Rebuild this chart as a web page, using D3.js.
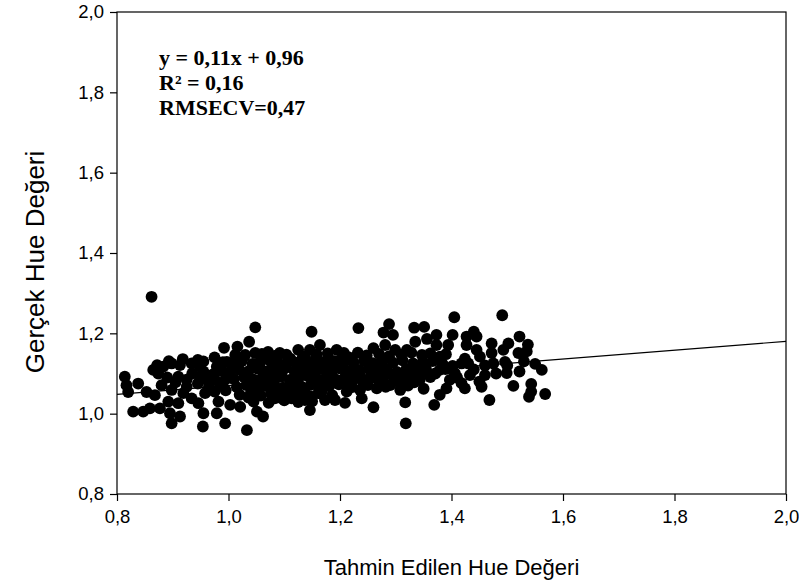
<!DOCTYPE html>
<html>
<head>
<meta charset="utf-8">
<script src="https://cdn.jsdelivr.net/npm/d3@7"></script>
<style>
  html, body { margin: 0; padding: 0; background: #fff; }
  svg { display: block; }
</style>
</head>
<body>
<svg id="chart" width="799" height="581"></svg>
<script>
// Predicted (x) vs measured (y) hue values
const predicted = [
  0.862, 0.992, 0.893, 0.918, 0.945, 0.872, 0.997, 1.048, 1.149, 1.037,
  1.016, 1.048, 1.071, 1.092, 1.125, 1.146, 1.164, 1.194, 1.030, 1.233,
  1.288, 1.278, 1.295, 1.333, 1.351, 1.405, 1.373, 1.402, 1.335, 1.356,
  1.373, 1.394, 1.207, 1.260, 1.281, 1.299, 1.320, 1.347, 1.379, 1.491,
  1.440, 1.427, 1.445, 1.427, 1.522, 1.502, 1.472, 1.537, 1.493, 1.520,
  1.535, 1.445, 1.472, 1.424, 1.451, 1.496, 1.550, 1.418, 1.430, 1.475,
  1.562, 1.522, 1.499, 1.433, 1.460, 1.418, 1.424, 1.454, 1.511, 1.543,
  1.543, 1.539, 1.568, 1.468, 1.209, 1.239, 1.260, 1.317, 1.369, 1.318,
  1.379, 1.391, 1.397, 1.406, 1.379, 1.343, 1.308, 1.290, 1.266, 1.236,
  1.212, 0.994, 1.033, 1.062, 1.003, 1.021, 1.051, 1.146, 1.173, 1.191,
  1.161, 1.083, 1.113, 1.137, 0.814, 0.817, 0.838, 0.820, 0.853, 0.868,
  0.865, 0.874, 0.883, 0.898, 0.913, 0.934, 0.949, 0.979, 0.910, 0.925,
  0.949, 0.961, 0.976, 0.994, 0.880, 0.898, 0.919, 0.934, 0.958, 0.892,
  0.910, 0.829, 0.847, 0.859, 0.877, 0.895, 0.913, 0.898, 0.955, 0.979,
  0.954, 0.982, 0.946,
  // dense centre of the cloud
  1.012, 1.027, 1.060, 1.083, 1.104, 1.137, 1.158, 1.178, 1.215, 1.232,
  1.248, 1.270, 1.288, 1.310, 1.328, 1.362, 1.390,
  1.008, 1.024, 1.043, 1.057, 1.074, 1.088, 1.106, 1.121, 1.139, 1.155,
  1.172, 1.190, 1.206, 1.224, 1.243, 1.259, 1.276, 1.295, 1.312, 1.331,
  1.349, 1.366, 1.384, 1.402,
  1.002, 1.019, 1.036, 1.052, 1.069, 1.085, 1.101, 1.118, 1.134, 1.151,
  1.167, 1.183, 1.199, 1.217, 1.234, 1.251, 1.268, 1.284, 1.302, 1.319,
  1.337, 1.354, 1.371, 1.389,
  1.010, 1.028, 1.045, 1.061, 1.077, 1.093, 1.110, 1.126, 1.143, 1.160,
  1.176, 1.193, 1.209, 1.226, 1.243, 1.260, 1.277, 1.296, 1.314, 1.330,
  1.362,
  1.015, 1.032, 1.049, 1.066, 1.082, 1.098, 1.115, 1.131, 1.148, 1.164,
  1.181, 1.198, 1.222, 1.250, 1.282, 1.322, 1.350,
  1.020, 1.040, 1.058, 1.076, 1.094, 1.112, 1.130, 1.147, 1.165, 1.186,
  1.045, 1.072, 1.100, 1.125, 1.150,
  0.935, 0.955, 0.972, 0.988, 0.925, 0.945, 0.965, 0.985, 0.995, 0.975,
  0.905, 0.890, 0.955, 0.975, 0.990,
  1.440, 1.460, 1.480, 1.410, 1.450, 1.500, 1.530,
  1.068, 1.095, 1.118, 1.142, 1.170, 1.120, 1.088, 1.155, 1.185, 1.235,
  1.265, 1.300, 1.340, 1.052, 1.080, 1.108, 1.136,
  1.064, 1.087, 1.111, 1.133, 1.157, 1.179, 1.203, 1.056, 1.079, 1.103,
  1.127, 1.151, 1.173, 1.196, 1.228, 1.256, 1.289, 1.318, 1.345, 1.213,
  1.241, 1.271, 1.304, 1.333, 1.036, 1.092, 1.140, 1.060, 1.118, 1.168
];

const measured = [
  1.291, 1.164, 1.131, 1.136, 1.134, 1.121, 1.129, 1.215, 1.204, 1.179,
  1.167, 1.151, 1.154, 1.151, 1.159, 1.159, 1.171, 1.159, 1.146, 1.213,
  1.223, 1.202, 1.196, 1.214, 1.216, 1.240, 1.196, 1.196, 1.179, 1.186,
  1.171, 1.171, 1.151, 1.163, 1.171, 1.159, 1.159, 1.146, 1.142, 1.245,
  1.204, 1.192, 1.192, 1.171, 1.192, 1.175, 1.175, 1.172, 1.159, 1.151,
  1.155, 1.159, 1.151, 1.137, 1.142, 1.129, 1.124, 1.125, 1.125, 1.125,
  1.109, 1.105, 1.101, 1.096, 1.096, 1.076, 1.063, 1.067, 1.069, 1.074,
  1.055, 1.042, 1.049, 1.034, 1.027, 1.038, 1.016, 1.028, 1.022, 0.976,
  1.047, 1.063, 1.084, 1.101, 1.109, 1.084, 1.059, 1.071, 1.063, 1.059,
  1.055, 0.976, 0.959, 0.993, 1.022, 1.017, 1.005, 1.009, 1.034, 1.034,
  1.051, 1.038, 1.038, 1.034, 1.092, 1.071, 1.075, 1.054, 1.054, 1.046,
  1.109, 1.100, 1.117, 1.125, 1.121, 1.125, 1.117, 1.117, 1.092, 1.067,
  1.092, 1.084, 1.084, 1.084, 1.071, 1.059, 1.051, 1.038, 1.051, 1.030,
  1.026, 1.005, 1.005, 1.013, 1.013, 1.001, 0.993, 0.976, 1.001, 1.001,
  0.968, 1.030, 1.026,
  1.146, 1.142, 1.149, 1.144, 1.147, 1.143, 1.148, 1.150, 1.141, 1.152,
  1.145, 1.149, 1.143, 1.147, 1.152, 1.150, 1.148,
  1.126, 1.131, 1.124, 1.129, 1.132, 1.125, 1.130, 1.127, 1.133, 1.126,
  1.129, 1.131, 1.124, 1.128, 1.132, 1.126, 1.130, 1.127, 1.133, 1.125,
  1.129, 1.131, 1.124, 1.119,
  1.104, 1.110, 1.106, 1.112, 1.105, 1.109, 1.113, 1.106, 1.110, 1.104,
  1.111, 1.107, 1.113, 1.105, 1.109, 1.112, 1.106, 1.110, 1.104, 1.111,
  1.107, 1.113, 1.100, 1.111,
  1.086, 1.091, 1.085, 1.090, 1.087, 1.092, 1.084, 1.089, 1.093, 1.086,
  1.090, 1.085, 1.091, 1.087, 1.083, 1.090, 1.086, 1.092, 1.084, 1.089,
  1.091,
  1.066, 1.071, 1.064, 1.069, 1.073, 1.065, 1.070, 1.067, 1.072, 1.064,
  1.069, 1.073, 1.066, 1.071, 1.067, 1.070, 1.062,
  1.047, 1.051, 1.045, 1.050, 1.046, 1.052, 1.048, 1.043, 1.050, 1.046,
  1.030, 1.027, 1.033, 1.029, 1.031,
  1.100, 1.105, 1.098, 1.106, 1.085, 1.075, 1.068, 1.072, 1.058, 1.055,
  1.078, 1.090, 1.130, 1.140, 1.128,
  1.110, 1.120, 1.100, 1.090, 1.080, 1.120, 1.130,
  1.097, 1.099, 1.078, 1.098, 1.078, 1.058, 1.118, 1.118, 1.097, 1.097,
  1.120, 1.096, 1.118, 1.058, 1.056, 1.060, 1.058,
  1.138, 1.139, 1.137, 1.140, 1.136, 1.139, 1.137, 1.117, 1.119, 1.118,
  1.116, 1.118, 1.119, 1.117, 1.098, 1.100, 1.099, 1.097, 1.101, 1.078,
  1.079, 1.077, 1.080, 1.078, 1.040, 1.040, 1.040, 1.078, 1.057, 1.058
];

// Fitted regression line: y = 0.11x + 0.96
const slope = 0.11;
const intercept = 0.96;
const lineX = [0.8, 2.0];

const xTicks = [0.8, 1.0, 1.2, 1.4, 1.6, 1.8, 2.0];
const yTicks = [0.8, 1.0, 1.2, 1.4, 1.6, 1.8, 2.0];

const statLines = ["y = 0,11x + 0,96", "R² = 0,16", "RMSECV=0,47"];
const xTitle = "Tahmin Edilen Hue Değeri";
const yTitle = "Gerçek Hue Değeri";

const svg = d3.select("#chart");
const margin = { left: 117, right: 13, top: 12, bottom: 87 };
const W = 799, H = 581;
const x = d3.scaleLinear().domain([0.8, 2.0]).range([margin.left, W - margin.right]);
const y = d3.scaleLinear().domain([0.8, 2.0]).range([H - margin.bottom, margin.top]);

const fmt = d => d3.format(".1f")(d).replace(".", ",");
const axisFont = "'Liberation Sans', Arial, sans-serif";

// frame
svg.append("rect")
  .attr("x", x(0.8)).attr("y", y(2.0))
  .attr("width", x(2.0) - x(0.8)).attr("height", y(0.8) - y(2.0))
  .attr("fill", "none").attr("stroke", "#000").attr("stroke-width", 1.2);

// axes
const gx = svg.append("g").attr("transform", `translate(0,${y(0.8)})`)
  .call(d3.axisBottom(x).tickValues(xTicks).tickFormat(fmt).tickSize(7).tickPadding(9));
const gy = svg.append("g").attr("transform", `translate(${x(0.8)},0)`)
  .call(d3.axisLeft(y).tickValues(yTicks).tickFormat(fmt).tickSize(7).tickPadding(6));
[gx, gy].forEach(g => {
  g.select(".domain").remove();
  g.selectAll("line").attr("stroke", "#000").attr("stroke-width", 1.2);
  g.selectAll("text").attr("fill", "#000").style("font-family", axisFont).style("font-size", "18.5px");
});

// regression line
svg.append("line")
  .attr("x1", x(lineX[0])).attr("y1", y(slope * lineX[0] + intercept))
  .attr("x2", x(lineX[1])).attr("y2", y(slope * lineX[1] + intercept))
  .attr("stroke", "#000").attr("stroke-width", 1.2);

// points
svg.append("g").selectAll("circle")
  .data(predicted.map((p, i) => [p, measured[i]]))
  .join("circle")
  .attr("cx", d => x(d[0])).attr("cy", d => y(d[1]))
  .attr("r", 5.9).attr("fill", "#000");

// axis titles
svg.append("text")
  .attr("x", (x(0.8) + x(2.0)) / 2).attr("y", 575)
  .attr("text-anchor", "middle")
  .style("font-family", axisFont).style("font-size", "22px")
  .text(xTitle);
svg.append("text")
  .attr("transform", `translate(44,${(y(0.8) + y(2.0)) / 2 + 9}) rotate(-90)`)
  .attr("text-anchor", "middle")
  .style("font-family", axisFont).style("font-size", "26px")
  .text(yTitle);

// fit statistics
svg.append("g").selectAll("text")
  .data(statLines)
  .join("text")
  .attr("x", 159).attr("y", (d, i) => 65 + i * 25)
  .style("font-family", "'Liberation Serif', 'Times New Roman', serif")
  .style("font-weight", "bold").style("font-size", "22px")
  .text(d => d);
</script>
</body>
</html>
